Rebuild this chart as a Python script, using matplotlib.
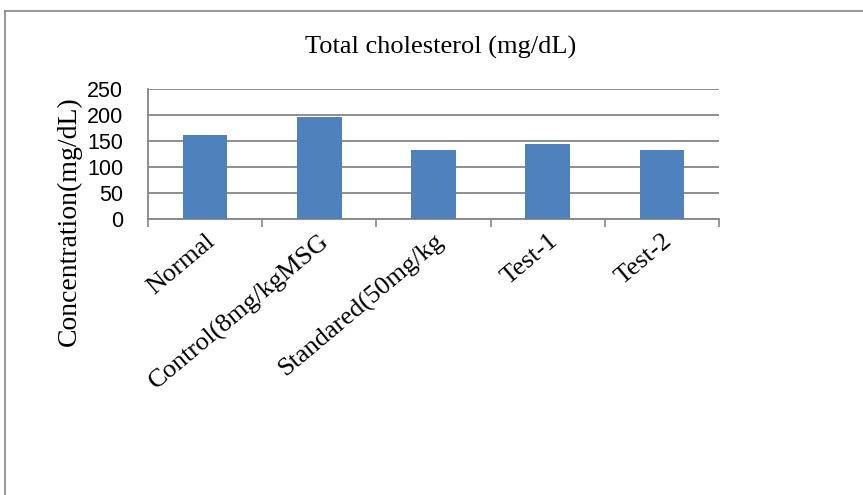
import matplotlib.pyplot as plt
from matplotlib.lines import Line2D

# chart values
groups = ["Normal", "Control(8mg/kgMSG", "Standared(50mg/kg", "Test-1", "Test-2"]
cholesterol = [162, 197, 132, 145, 133]
y_ticks = [0, 50, 100, 150, 200, 250]

bar_color = "#4F81BD"
grid_color = "#868686"
serif = ["Liberation Serif", "DejaVu Serif"]
sans = ["Liberation Sans", "DejaVu Sans"]

fig = plt.figure(figsize=(8.63, 4.95), dpi=100)
ax = fig.add_axes([0.1715, 0.5576, 0.6616, 0.2626])

x = list(range(len(groups)))
ax.bar(x, cholesterol, width=0.39, color=bar_color, zorder=3)

ax.set_xlim(-0.5, len(groups) - 0.5)
ax.set_ylim(0, 250)
ax.set_yticks(y_ticks)
ax.set_yticklabels([str(v) for v in y_ticks], family=sans, fontsize=15.5)
ax.tick_params(axis="y", length=0, pad=18)

# category boundaries get the tick marks, labels sit under the bars
ax.set_xticks([i - 0.5 for i in range(len(groups) + 1)])
ax.set_xticklabels([])
ax.tick_params(axis="x", which="major", length=6, width=1.2, color=grid_color, direction="out")
ax.set_xticks(x, minor=True)
ax.set_xticklabels(groups, minor=True, rotation=40, ha="right", va="top",
                   rotation_mode="anchor", family=serif, fontsize=19)
ax.tick_params(axis="x", which="minor", length=0, pad=8)

ax.yaxis.grid(True, color=grid_color, linewidth=1.3, zorder=0)
ax.set_axisbelow(True)
for side in ["top", "right"]:
    ax.spines[side].set_visible(False)
for side in ["left", "bottom"]:
    ax.spines[side].set_color(grid_color)
    ax.spines[side].set_linewidth(1.3)

ax.set_ylabel("Concentration(mg/dL)", family=serif, fontsize=20)
ax.yaxis.set_label_coords(-0.115, -0.02)

fig.text(0.51, 0.905, "Total cholesterol (mg/dL)", ha="center", va="center",
         family=serif, fontsize=19)

# outer chart frame (left and top edges visible)
fig.add_artist(Line2D([5 / 863, 5 / 863], [0, 1 - 11 / 495], transform=fig.transFigure,
                      color=grid_color, linewidth=1.2))
fig.add_artist(Line2D([5 / 863, 1], [1 - 11 / 495, 1 - 11 / 495], transform=fig.transFigure,
                      color=grid_color, linewidth=1.2))

fig.savefig("out.png", dpi=100)
